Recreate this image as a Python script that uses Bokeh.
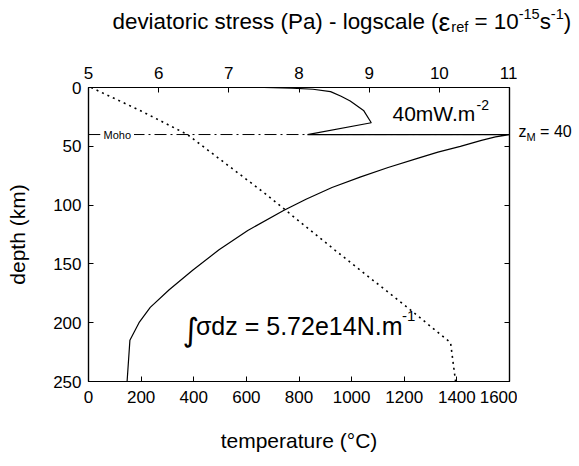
from bokeh.plotting import figure
from bokeh.layouts import column, row
from bokeh.models import Range1d, LinearAxis, FixedTicker, Label, Span
from bokeh.embed import file_html
from bokeh.resources import INLINE

# ---------------- data ----------------
# deviatoric stress profile: log10(stress in Pa) vs depth (km)
stress_log = [7.5, 7.9, 8.2, 8.45, 8.6, 8.73, 8.92, 9.03, 8.12,
              11.0, 10.8, 10.6, 10.3, 9.98, 9.7, 9.27, 8.88, 8.47, 8.1, 7.78,
              7.27, 6.86, 6.48, 6.15, 5.88, 5.72, 5.59, 5.55]
stress_depth = [0, 0.5, 1.5, 3.5, 7.5, 11.5, 19.5, 30, 40,
                40, 42, 45, 50, 55, 60, 68, 76, 85, 95, 104.6,
                121.6, 138, 155.6, 172, 187, 200, 215, 250]

# geotherm: temperature (deg C) vs depth (km)
temperature = [10, 200, 376, 670, 946, 1212, 1376, 1395]
temp_depth = [0, 20, 40, 90, 140, 187, 217, 250]

moho_depth = 40

temp_ticks = [0, 200, 400, 600, 800, 1000, 1200, 1400, 1600]
stress_ticks = [5, 6, 7, 8, 9, 10, 11]
depth_ticks = [0, 50, 100, 150, 200, 250]

title_parts = [("deviatoric stress (Pa) - logscale (", "main"), ("ε", "eps"), ("ref", "sub"),
               (" = 10", "main"), ("-15", "sup"), ("s", "main"), ("-1", "sup"), (")", "main")]
heat_flow_parts = [("40mW.m", "main"), ("-2", "sup")]
zm_parts = [("z", "main"), ("M", "sub"), (" = 40", "main")]
integral_parts = [("∫", "int"), ("σdz = 5.72e14N.m", "main"), ("-1", "sup")]

# ---------------- layout sizes ----------------
FONT = "Liberation Sans"
TOTAL_W = 577
TITLE_H = 48
MAIN_W = 517
MAIN_H = 416
ZM_W = TOTAL_W - MAIN_W
ML, MR, MT, MB = 88, 8, 39, 83


def bare_figure(w, h, **kw):
    f = figure(width=w, height=h, output_backend="svg", toolbar_location=None,
               x_axis_location=None, y_axis_location=None,
               min_border_left=0, min_border_right=0, **kw)
    f.grid.visible = False
    f.outline_line_color = None
    f.background_fill_color = "white"
    f.border_fill_color = "white"
    return f


# ---------------- main figure ----------------
p = figure(width=MAIN_W, height=MAIN_H, x_range=Range1d(0, 1600), y_range=Range1d(250, 0),
           output_backend="svg", toolbar_location=None,
           min_border_left=ML, min_border_right=MR, min_border_top=MT, min_border_bottom=MB)
p.extra_x_ranges = {"stress": Range1d(5, 11)}
p.grid.visible = False
p.outline_line_color = "black"
p.outline_line_width = 1.2
p.background_fill_color = "white"
p.border_fill_color = "white"

bottom_axis = p.below[0]
left_axis = p.left[0]
top_axis = LinearAxis(x_range_name="stress")
right_axis = LinearAxis()
p.add_layout(top_axis, "above")
p.add_layout(right_axis, "right")


def style_axis(ax, ticks, standoff):
    ax.ticker = FixedTicker(ticks=ticks)
    ax.major_tick_in = 5
    ax.major_tick_out = 0
    ax.minor_tick_line_color = None
    ax.axis_line_color = "black"
    ax.axis_line_width = 1.2
    ax.major_tick_line_color = "black"
    ax.major_label_text_font = FONT
    ax.major_label_text_font_size = "17px"
    ax.major_label_text_color = "black"
    ax.major_label_standoff = standoff


style_axis(bottom_axis, temp_ticks, 9)
style_axis(left_axis, depth_ticks, 7)
style_axis(top_axis, stress_ticks, 9)
style_axis(right_axis, depth_ticks, 0)
# right axis: ticks only
right_axis.major_label_text_color = None
right_axis.major_label_text_font_size = "1px"

for ax, lab, so in ((bottom_axis, "temperature (°C)", 23), (left_axis, "depth (km)", 21)):
    ax.axis_label = lab
    ax.axis_label_text_font = FONT
    ax.axis_label_text_font_size = "21px"
    ax.axis_label_text_font_style = "normal"
    ax.axis_label_text_color = "black"
    ax.axis_label_standoff = so

# curves
p.line(stress_log, stress_depth, x_range_name="stress", line_color="black", line_width=1.2)
p.line(temperature, temp_depth, line_color="black", line_width=1.6, line_dash="2 4")
p.add_layout(Span(location=moho_depth, dimension="width", line_color="black",
                  line_width=1, line_dash="12 4 2 4"))

# ---------------- texts ----------------
WID = {' ': 278, '(': 333, ')': 333, '-': 333, '=': 584, '.': 278, '°': 400,
       'a': 556, 'b': 556, 'c': 500, 'd': 556, 'e': 556, 'f': 278, 'g': 556, 'h': 556,
       'i': 222, 'j': 222, 'k': 500, 'l': 222, 'm': 833, 'n': 556, 'o': 556, 'p': 556,
       'q': 556, 'r': 333, 's': 500, 't': 278, 'u': 556, 'v': 500, 'w': 722, 'x': 500,
       'y': 500, 'z': 500, 'P': 667, 'W': 944, 'N': 722, 'M': 833, 'C': 722,
       'ε': 480, 'σ': 600, '∫': 420}


def twidth(s, size):
    return sum(WID.get(ch, 556) for ch in s) * size / 1000.0


def run(fig, parts, sx, sy, sizes):
    x = sx
    for text, kind in parts:
        size, dy, font = sizes[kind]
        stripped = text.lstrip(" ")
        x += twidth(text[:len(text) - len(stripped)], size)
        fig.add_layout(Label(x=x, y=sy + dy, x_units="screen", y_units="screen", text=stripped,
                             text_font=font, text_font_size=f"{size}px", text_color="black",
                             text_align="left", text_baseline="alphabetic"))
        x += twidth(stripped, size)


# inside main frame (screen coords: origin at frame bottom-left)
run(p, heat_flow_parts, 304, 268, {"main": (21, 0, FONT), "sup": (14, 9, FONT)})
run(p, integral_parts, 94, 56, {"int": (32, -4, "DejaVu Sans"), "main": (25, 0, FONT),
                                "sup": (15, 10, FONT)})

moho = Label(x=12, y=moho_depth, x_units="screen", y_units="data", text="Moho",
             text_font=FONT, text_font_size="11px", text_color="black",
             text_align="left", text_baseline="middle", background_fill_color="white")
if "padding" in Label.properties():
    moho.padding = 3
p.add_layout(moho)

# title strip
tfig = bare_figure(TOTAL_W, TITLE_H, x_range=Range1d(0, TOTAL_W), y_range=Range1d(0, TITLE_H),
                   min_border_top=0, min_border_bottom=0)
run(tfig, title_parts, 112, 27, {"main": (22.4, 0, FONT), "eps": (26.5, 0, FONT),
                                 "sub": (14.5, -5, FONT), "sup": (14.5, 8, FONT)})

# right strip holding the Moho depth label
zfig = bare_figure(ZM_W, MAIN_H, x_range=Range1d(0, 1), y_range=p.y_range,
                   min_border_top=MT, min_border_bottom=MB)
run(zfig, zm_parts, 1, 250, {"main": (16, 0, FONT), "sub": (11, -5, FONT)})

layout = column(tfig, row(p, zfig, spacing=0), spacing=0)
open("out.html", "w").write(file_html(layout, INLINE))
